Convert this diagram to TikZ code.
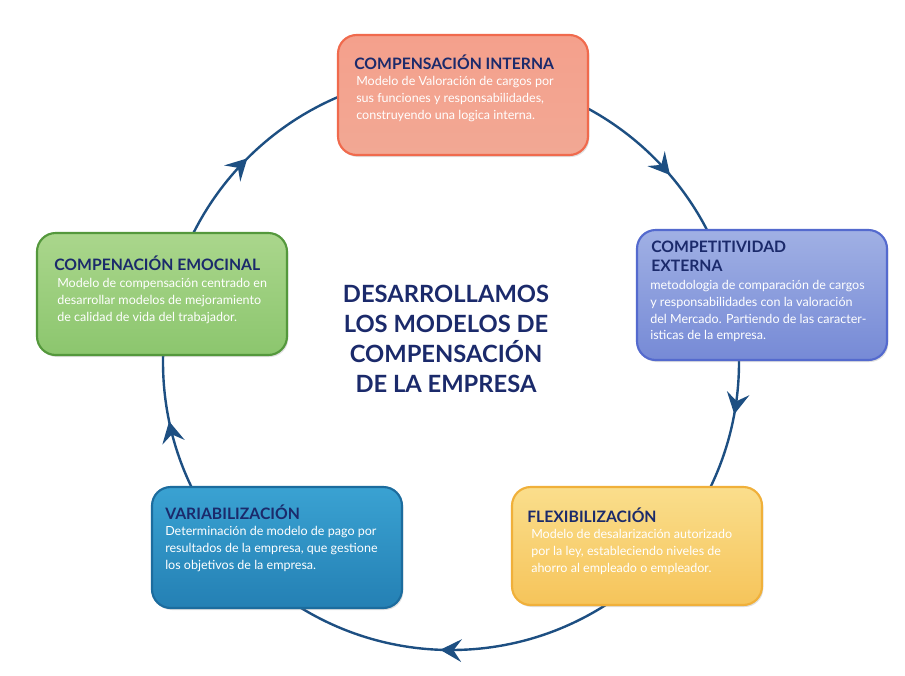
\documentclass[tikz,border=0pt]{standalone}
\usepackage{fontspec}
\setmainfont{Lato}
\usetikzlibrary{decorations.markings,arrows.meta,shadows}
\definecolor{navy}{HTML}{1B2A6B}
\definecolor{ring}{HTML}{1D4F82}
\tikzset{
 card/.style={rounded corners=14pt,line width=1.6pt,drop shadow={opacity=0.25,shadow xshift=1pt,shadow yshift=-1.5pt}},
 ttl/.style={font=\bfseries\fontsize{11.8}{14}\selectfont,text=navy,align=left,anchor=north west,inner sep=0pt},
 bdy/.style={font=\fontsize{9.4}{12.6}\selectfont,text=white,align=left,anchor=north west,inner sep=0pt}
}
\begin{document}
\begin{tikzpicture}[x=0.75pt,y=-0.75pt]
\useasboundingbox (0,0) rectangle (905,675);
\fill[white] (0,0) rectangle (905,675);
\coordinate (c) at (451,362);
\draw[ring,line width=1.8pt,postaction={decorate},decoration={markings,
 mark=at position 0.006 with {\arrow[ring]{Stealth[length=16pt,width=17pt,inset=6pt]}},
 mark=at position 0.217 with {\arrow[ring]{Stealth[length=16pt,width=17pt,inset=6pt]}},
 mark=at position 0.375 with {\arrow[ring]{Stealth[length=16pt,width=17pt,inset=6pt]}},
 mark=at position 0.6375 with {\arrow[ring]{Stealth[length=16pt,width=17pt,inset=6pt]}},
 mark=at position 0.779 with {\arrow[ring]{Stealth[length=16pt,width=17pt,inset=6pt]}}}]
 (451,650) arc[start angle=90,end angle=450,radius=288];
% boxes
\draw[card,draw={rgb,255:red,240;green,106;blue,77},top color={rgb,255:red,244;green,160;blue,140},bottom color={rgb,255:red,242;green,168;blue,148}] (338,35) rectangle node(n1){} (588,155);
\draw[card,draw={rgb,255:red,84;green,106;blue,206},top color={rgb,255:red,160;green,176;blue,228},bottom color={rgb,255:red,118;green,138;blue,214}] (637,230) rectangle node(n2){} (887,360);
\draw[card,draw={rgb,255:red,240;green,176;blue,58},top color={rgb,255:red,250;green,222;blue,140},bottom color={rgb,255:red,246;green,196;blue,90}] (512,487) rectangle node(n3){} (762,605);
\draw[card,draw={rgb,255:red,28;green,108;blue,158},top color={rgb,255:red,58;green,162;blue,210},bottom color={rgb,255:red,36;green,128;blue,180}] (152,487) rectangle node(n4){} (402,608);
\draw[card,draw={rgb,255:red,84;green,152;blue,60},top color={rgb,255:red,170;green,214;blue,140},bottom color={rgb,255:red,140;green,198;blue,110}] (37,233) rectangle node(n5){} (287,355);
% texts
\node[ttl] (t1) at (354,55) {COMPENSACIÓN INTERNA};
\node[bdy] (b1) at (356,76) {Modelo de Valoración de cargos por\\sus funciones y responsabilidades,\\construyendo una logica interna.};
\node[ttl] (t2) at (651,241) {COMPETITIVIDAD\\EXTERNA};
\node[bdy] (b2) at (650,280) {metodologia de comparación de cargos\\y responsabilidades con la valoración\\del Mercado. Partiendo de las caracter-\\isticas de la empresa.};
\node[ttl] (t3) at (527,508) {FLEXIBILIZACIÓN};
\node[bdy] (b3) at (531,529) {Modelo de desalarización autorizado\\por la ley, estableciendo niveles de\\ahorro al empleado o empleador.};
\node[ttl] (t4) at (165,505) {VARIABILIZACIÓN};
\node[bdy] (b4) at (165,526) {Determinación de modelo de pago por\\resultados de la empresa, que gestione\\los objetivos de la empresa.};
\node[ttl] (t5) at (54,256) {COMPENACIÓN EMOCINAL};
\node[bdy] (b5) at (57,278) {Modelo de compensación centrado en\\desarrollar modelos de mejoramiento\\de calidad de vida del trabajador.};
\node[font=\bfseries\fontsize{17.8}{22.5}\selectfont,text=navy,align=center] (ct) at (446,339) {DESARROLLAMOS\\LOS MODELOS DE\\COMPENSACIÓN\\DE LA EMPRESA};
\end{tikzpicture}
\end{document}
